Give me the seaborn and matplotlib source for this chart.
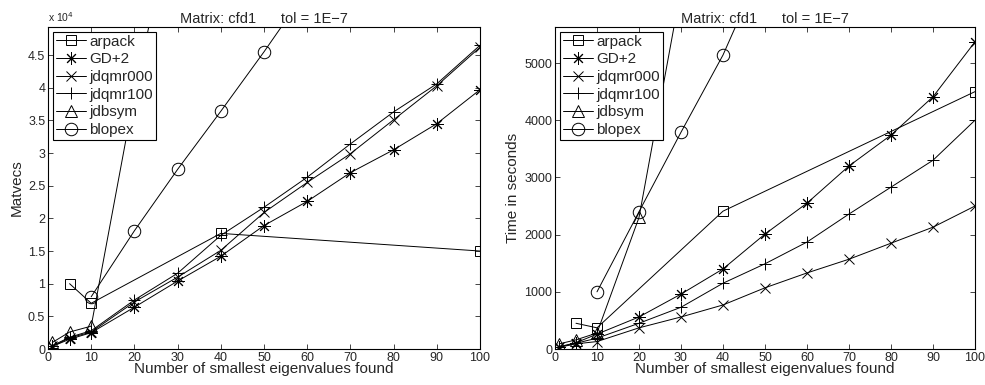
import matplotlib
matplotlib.use("Agg")
import matplotlib.pyplot as plt
import seaborn as sns
import numpy as np
from matplotlib.ticker import FixedLocator, FuncFormatter

# ---------------- data ----------------
methods = ["arpack", "GD+2", "jdqmr000", "jdqmr100", "jdbsym", "blopex"]
nev_full = [1, 5, 10, 20, 30, 40, 50, 60, 70, 80, 90, 100]
nev_arpack = [5, 10, 40, 100]
nev_jdbsym = [1, 5, 10, 20, 30]
nev_blopex = [10, 20, 30, 40, 50, 60]

# Matvecs (left panel)
mv_arpack = [10000, 7000, 17700, 15000]
mv_gd2 = [400, 1500, 2500, 6400, 10400, 14200, 18900, 22600, 27000, 30500, 34500, 39700]
mv_jdqmr000 = [400, 1700, 2600, 7200, 11000, 15100, 20900, 25500, 29900, 35100, 40300, 46200]
mv_jdqmr100 = [500, 1800, 2800, 7500, 11600, 17400, 21700, 26300, 31400, 36300, 40600, 46500]
mv_jdbsym = [1000, 2600, 3500, 39000, 70000]
mv_blopex = [8000, 18100, 27500, 36400, 45500, 55000]

# Time in seconds (right panel)
t_arpack = [450, 370, 2410, 4500]
t_gd2 = [40, 110, 260, 560, 960, 1400, 2010, 2550, 3200, 3740, 4410, 5370]
t_jdqmr000 = [30, 90, 130, 370, 560, 770, 1070, 1330, 1570, 1850, 2130, 2500]
t_jdqmr100 = [35, 100, 190, 450, 730, 1150, 1490, 1870, 2360, 2830, 3300, 4000]
t_jdbsym = [90, 160, 280, 2300, 6300]
t_blopex = [1000, 2400, 3790, 5140, 6800, 8500]

title_text = "Matrix: cfd1      tol = 1E\u22127"
xlabel_text = "Number of smallest eigenvalues found"
ylabels = ["Matvecs", "Time in seconds"]
x_ticks = list(range(0, 101, 10))
left_yticks = [0, 5000, 10000, 15000, 20000, 25000, 30000, 35000, 40000, 45000]
right_yticks = [0, 1000, 2000, 3000, 4000, 5000]

# ---------------- style ----------------
sns.set_style("ticks")
plt.rcParams["font.family"] = ["Liberation Sans", "DejaVu Sans"]
plt.rcParams["xtick.direction"] = "in"
plt.rcParams["ytick.direction"] = "in"
plt.rcParams["xtick.top"] = True
plt.rcParams["ytick.right"] = True
plt.rcParams["axes.linewidth"] = 0.8
plt.rcParams["xtick.major.size"] = 3.5
plt.rcParams["ytick.major.size"] = 3.5
plt.rcParams["xtick.major.width"] = 0.6
plt.rcParams["ytick.major.width"] = 0.6

markers = {"arpack": "s", "GD+2": (8, 2, 0), "jdqmr000": "x", "jdqmr100": "+",
           "jdbsym": "^", "blopex": "o"}
msizes = {"arpack": 7, "GD+2": 9, "jdqmr000": 7, "jdqmr100": 9,
          "jdbsym": 8, "blopex": 9}

fig = plt.figure(figsize=(9.85, 3.85), dpi=100)
axL = fig.add_axes([48 / 985, 36 / 385, 432 / 985, 322 / 385])
axR = fig.add_axes([555 / 985, 36 / 385, 420 / 985, 322 / 385])

left_series = [(nev_arpack, mv_arpack), (nev_full, mv_gd2), (nev_full, mv_jdqmr000),
               (nev_full, mv_jdqmr100), (nev_jdbsym, mv_jdbsym), (nev_blopex, mv_blopex)]
right_series = [(nev_arpack, t_arpack), (nev_full, t_gd2), (nev_full, t_jdqmr000),
                (nev_full, t_jdqmr100), (nev_jdbsym, t_jdbsym), (nev_blopex, t_blopex)]

for ax, series, ylab, ymax, yt in [(axL, left_series, ylabels[0], 49300, left_yticks),
                                   (axR, right_series, ylabels[1], 5630, right_yticks)]:
    for m, (xs, ys) in zip(methods, series):
        sns.lineplot(x=xs, y=ys, ax=ax, color="k", linewidth=0.7, marker=markers[m],
                     markersize=msizes[m], markerfacecolor="none", markeredgecolor="k",
                     markeredgewidth=0.7, label=m, estimator=None, sort=False)
    ax.set_xlim(0, 100)
    ax.set_ylim(0, ymax)
    ax.xaxis.set_major_locator(FixedLocator(x_ticks))
    ax.yaxis.set_major_locator(FixedLocator(yt))
    ax.tick_params(labelsize=9, pad=2)
    ax.set_xlabel(xlabel_text, fontsize=11, labelpad=-1)
    ax.set_ylabel(ylab, fontsize=11, labelpad=3)
    ax.set_title(title_text, fontsize=10.5, pad=3)
    for s in ax.spines.values():
        s.set_visible(True)
        s.set_color("k")
    leg = ax.legend(loc="upper left", fontsize=11, frameon=True, fancybox=False,
                    edgecolor="k", framealpha=1, borderpad=0.2, labelspacing=0.24,
                    handlelength=2.0, handletextpad=0.2, borderaxespad=0.3)
    leg.get_frame().set_linewidth(0.8)

axL.yaxis.set_major_formatter(FuncFormatter(lambda v, p: "0" if v == 0 else f"{v/1e4:g}"))
axL.text(0.0, 1.01, "x 10$^4$", transform=axL.transAxes, fontsize=7.5, ha="left", va="bottom")

fig.savefig("out.png", dpi=100)
